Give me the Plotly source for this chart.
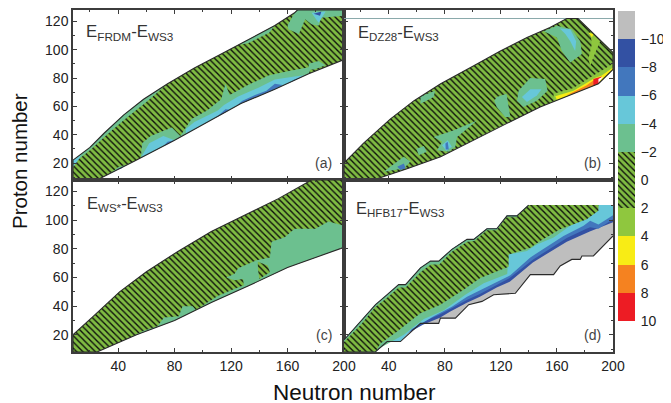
import plotly.graph_objects as go

PAGE_W, PAGE_H = 671, 403
BODY = 8
W, H = PAGE_W - BODY, PAGE_H - BODY
FONT = "Liberation Sans"
GREEN = "#7FBB42"
TEAL = "#6CC08F"
LTBLUE = "#67C7D9"
BLUE = "#4277BD"
DKBLUE = "#3351A3"
GRAY = "#BEBEBE"
LIME = "#8FC73E"
YELLOW = "#F8EC15"
ORANGE = "#F58220"
RED = "#ED1C24"
WHITE = "#FFFFFF"
HATCH = "hatch"

# ---------- panel (a) E_FRDM - E_WS3 : [N, Z] contour outlines ----------
A_BOUND = [[8,8],[8,22],[20,31],[30,41],[44,54],[58,65],[75,76],[94,87],[113,97],[132,107],[151,117],[165,126],[167,128],[200,128],[200,93],[175,83],[151,72],[127,62],[103.5,49],[80,36],[51,21],[25,8]]
A_T_STRIP = [[56,23.6],[57,34],[63,39],[78,45],[84,39],[92,51],[103,57],[113,65],[116,76],[119,68],[132,75],[147,82],[161,85],[177,88],[175,83],[151,72],[127,62],[103.5,49],[80,36]]
A_T_TOP = [[160,117],[165,126],[167,128],[200,128],[200,124],[184,122.6],[182,116.8],[177,118],[172.5,121.5],[168,111],[160.6,114.4]]
A_T_EDGE = [[125,103.3],[132,107],[151,117],[147,112],[132,104.5]]
A_T_BLOB = [[175,90],[182,92],[187,89],[179,86],[175,86]]
A_T_LEFT = [[8,21],[8,22],[20,31],[30,41],[44,54],[58,65],[75,76],[60,63],[46,52],[32,40],[20,29],[10,21]]
A_T_LOW = [[34,12.6],[40,17],[46,19],[51,21],[36,13.5]]
A_L_1 = [[56,23.6],[62,34],[72,39],[80,36]]
A_L_2 = [[88,40.4],[88,44],[94,49],[110.6,57],[115,61],[125,67],[139,73],[151,79],[165,81],[172.5,82],[151,72],[127,62],[103.5,49]]
A_L_TOP = [[177,126],[187,127],[182,119]]
A_L_CORNER = [[8,17],[8,22],[14,26],[11,21]]
A_B_1 = [[72,31.8],[75,35],[80,36]]
A_B_2 = [[109,51.8],[116,58],[119,57.6]]
A_B_3 = [[124,60.5],[128,64],[137,68],[145,71],[151,76],[156.5,75],[151,72],[127,62]]
A_B_4 = [[160,76],[165,79],[172,81.7]]
A_B_5 = [[38,15],[44,17.5],[42,16]]
A_D_TOP = [[178.5,125.4],[184,127],[183,124]]
PANEL_A = [(A_BOUND,HATCH),(A_T_STRIP,TEAL),(A_T_TOP,TEAL),(A_T_EDGE,TEAL),(A_T_BLOB,TEAL),(A_T_LEFT,TEAL),(A_T_LOW,TEAL),
           (A_L_1,LTBLUE),(A_L_2,LTBLUE),(A_L_TOP,LTBLUE),(A_L_CORNER,LTBLUE),
           (A_B_1,BLUE),(A_B_2,BLUE),(A_B_3,BLUE),(A_B_4,BLUE),(A_B_5,BLUE),(A_D_TOP,DKBLUE)]

# ---------- panel (b) E_DZ28 - E_WS3 ----------
B_BOUND = [[8,8],[8,20],[22,34],[41,51],[58,64],[77,76],[100.6,88.7],[119.6,99],[138.6,108.6],[155,115.6],[167,122],[175,122],[200,98],[200,86],[189.6,76],[172,69],[148,59.5],[124,47.8],[100.6,36],[77,24.4],[53,16],[29,8]]
B_RIDGE_Z = 122
B_T_TOP = [[150.5,113],[160,116.8],[170.6,114.4],[176.6,106],[177.8,97],[169.5,91],[163.5,99],[160,108.6]]
B_L_TOP = [[162,115],[169.5,114.4],[173.7,106],[173,99],[169.5,106],[166,111]]
B_T_MID = [[132.6,71],[141,80],[151.6,79.3],[153.3,71],[145.7,64],[136,59.5],[131.5,64]]
B_L_MID = [[135,66.5],[141,72],[149,72],[145.7,67.6],[138.6,63]]
B_T_3 = [[115.3,64],[117,66.5],[124,68.8],[126.7,52.4],[123,52.4],[117,59.5]]
B_T_4 = [[72,38.4],[86,43],[103,50],[88.7,38.4],[87.5,31.4],[82.8,28],[74.4,29],[78,35]]
B_L_4 = [[78,32.6],[82,36],[85,31.4],[81,28.6]]
B_B_4 = [[80.4,33.7],[82,35],[82.8,29.5],[80.6,29.5]]
B_T_5 = [[59.7,30],[65,32],[67,28],[61.4,25.5]]
B_T_6 = [[41,17.4],[50.7,24.4],[55.4,21],[50.7,16.2],[36.4,13.8]]
B_B_6 = [[46,17.4],[50.7,19.7],[52,16.2],[48.3,15]]
B_T_7 = [[62.6,67],[73,71],[72,66.5],[62.6,61.8]]
B_V_RIGHT = [[183.7,113],[190.8,106],[187,97],[183.7,88.7],[182.5,93.4],[184.9,104]]
B_Y_RIGHT = [[182.5,112],[186,111],[185,108.6]]
B_V_LOW = [[157.6,68.8],[171.8,73],[186,81.7],[200,90],[200,86],[189.6,76],[172,69],[157.6,63.4]]
B_Y_LOW = [[158.8,67.2],[171.8,71],[187,80],[192,81.7],[200,87.5],[200,86],[189.6,76],[172,69],[160,64.5]]
B_O_LOW = [[167,67.8],[181,74.7],[188.5,80],[189.6,76],[172,69]]
B_R_LOW = [[186,79.3],[192,81],[189.6,76],[186,74.7]]
B_W_LOW = [[189.6,79.3],[193,81],[189.6,76.5]]
PANEL_B = [(B_BOUND,HATCH),(B_T_TOP,TEAL),(B_L_TOP,LTBLUE),(B_T_MID,TEAL),(B_L_MID,LTBLUE),(B_T_3,TEAL),(B_T_4,TEAL),(B_L_4,LTBLUE),(B_B_4,BLUE),
           (B_T_5,TEAL),(B_T_6,TEAL),(B_B_6,BLUE),(B_T_7,TEAL),(B_V_RIGHT,LIME),(B_Y_RIGHT,YELLOW),
           (B_V_LOW,LIME),(B_Y_LOW,YELLOW),(B_O_LOW,ORANGE),(B_R_LOW,RED),(B_W_LOW,WHITE)]

# ---------- panel (c) E_WS* - E_WS3 ----------
C_BOUND = [[8,8],[8,20],[22.5,33],[41,50],[60,64],[82,78],[106,92],[130,103.5],[153.5,115],[177,128],[200,128],[200,81],[160,67],[132,54],[106,42.6],[80,30],[53,20],[25,8]]
C_T_MAIN = [[46,17],[58,22.8],[67.8,26],[72.5,32],[83,33],[85.6,40],[92.8,40],[95,37.3],[103.5,42.7],[110.6,47],[120,51],[129,54.5],[128.5,59],[122.5,58],[116.6,60],[122.5,62.6],[125,66.5],[138,72],[147.5,74],[148.7,85],[158,88],[165,94],[179.7,94],[189,99],[200,96],[200,81],[160,67],[132,54],[106,42.6],[80,30],[53,20]]
C_H_ISLE = [[139,71],[146,68.4],[147.5,63.7],[140,59],[139,66]]
PANEL_C = [(C_BOUND,HATCH),(C_T_MAIN,TEAL),(C_H_ISLE,HATCH)]

# ---------- panel (d) E_HFB17 - E_WS3 ----------
D_UPPER = [[8,16.4],[19.8,29.3],[30.5,41],[38.8,48],[47,55],[51.9,55],[62.6,66.7],[69.7,71.4],[75.6,71.4],[85,79.6],[95.8,86.6],[100.6,86.6],[110,94],[117,94],[124.3,103],[131.4,103],[139.8,110.5],[200,110.5]]
D_LOWER = [[200,89],[186,75],[177.8,75],[176.6,72.6],[170.6,72.6],[162.3,68],[157.6,62],[141,62],[130.3,49],[114.8,48],[106.5,43.3],[97,41],[87.5,31.6],[76.8,31.6],[75.6,28],[62.6,28],[48.3,15.3],[38.8,15.3],[30.5,8.2],[8,8]]
D_FOOT_LONG = [[48.3,15.3],[38.8,15.3],[30.5,8.2],[8,8]]
D_FOOT_SHORT = [[30.5,8.2],[8,8]]
D_EDGE_GRAY = [[48.3,15.3],[51.5,20],[64.3,27],[76.4,31.9],[83.6,36],[95.7,42.4],[105,46.6],[117,53],[126.3,57],[142.8,70.5],[167,85],[183.4,92],[200,98.5]]
D_EDGE_DK = [[48.3,15.3],[50,21.5],[64,29],[76,34],[84,38],[96,44.5],[105,48.5],[117,55],[126,59.5],[143,72.5],[167,87.5],[181,94],[183.7,95],[189.6,94],[200,100.6]]
D_EDGE_BL = [[48.3,15.3],[56.6,24],[72,33],[85,39.5],[95.8,46.5],[112.4,54.5],[126.7,61.5],[141,74],[150.4,80],[164.7,89],[179,96],[183.7,99.5],[189.6,97],[200,103.4]]
D_EDGE_LB = [[35.2,11.7],[50.7,20],[59,26.5],[65,31],[79,37],[94.6,48],[107.7,56],[120,60.5],[124.5,62.5],[125.5,76],[138.6,78.4],[145.7,83],[157.6,87.8],[169.5,96],[182.5,101.8],[189.6,108.8],[189.6,110.5]]
D_EDGE_TL = [[34,14],[46,22.3],[56.6,30.5],[62.6,35],[76.8,41],[93.4,51.5],[105.3,59.7],[117,64.4],[125.5,67.4],[125.5,76],[141,80.7],[148,85.4],[162.3,93.6],[181.3,100.6],[189.6,106.5],[189.6,110.5]]
D_HATCH_TOP = [[8,15],[20,27],[30,39],[39,46],[47,53],[52,53],[63,64],[70,69],[76,69],[85,78],[96,85],[101,85.5],[110,93],[117,93],[124,102],[131,102],[140,110.5],[189.6,110.5]]

# ---------- colour key ----------
CB_LOW = [-12,-10,-8,-6,-4,-2,2,4,6,8]
CB_HIGH = [-10,-8,-6,-4,-2,2,4,6,8,10]
CB_COL = [GRAY,DKBLUE,BLUE,LTBLUE,TEAL,HATCH,LIME,YELLOW,ORANGE,RED]
CB_TICKS = [-10,-8,-6,-4,-2,0,2,4,6,8,10]
X_TICKS = [40,80,120,160,200]
Y_TICKS = [20,40,60,80,100,120]

PAT = dict(shape="\\", size=4.4, solidity=0.3, fgcolor="#0a0a0a", bgcolor=GREEN, fillmode="replace")

fig = go.Figure()

def poly(points, colour, ax):
    xa, ya = ax
    kw = dict(x=[p[0] for p in points], y=[p[1] for p in points], mode="lines", fill="toself",
              line=dict(width=0), xaxis=xa, yaxis=ya, hoverinfo="skip", showlegend=False)
    if colour == HATCH:
        kw["fillcolor"] = GREEN
        kw["fillpattern"] = PAT
    else:
        kw["fillcolor"] = colour
    fig.add_trace(go.Scatter(**kw))

def outline(points, ax, closed=True):
    xa, ya = ax
    pts = points + points[:1] if closed else points
    fig.add_trace(go.Scatter(x=[p[0] for p in pts], y=[p[1] for p in pts], mode="lines",
                             line=dict(color="#2a2a2a", width=1.1), xaxis=xa, yaxis=ya,
                             hoverinfo="skip", showlegend=False))

AX_A, AX_B, AX_C, AX_D = ("x","y"), ("x2","y2"), ("x3","y3"), ("x4","y4")

for pts, col in PANEL_A:
    poly(pts, col, AX_A)
outline(A_BOUND, AX_A)

for pts, col in PANEL_B:
    poly(pts, col, AX_B)
fig.add_trace(go.Scatter(x=[8,200], y=[B_RIDGE_Z,B_RIDGE_Z], mode="lines", line=dict(color="#8aa9ab", width=1),
                         xaxis="x2", yaxis="y2", hoverinfo="skip", showlegend=False))
outline(B_BOUND, AX_B)

for pts, col in PANEL_C:
    poly(pts, col, AX_C)
outline(C_BOUND, AX_C)

poly(D_UPPER + D_LOWER, GRAY, AX_D)
top_rev = D_UPPER[::-1]
poly(D_EDGE_GRAY + top_rev + D_FOOT_LONG[::-1], DKBLUE, AX_D)
poly(D_EDGE_DK + top_rev + D_FOOT_LONG[::-1], BLUE, AX_D)
poly(D_EDGE_BL + top_rev + D_FOOT_LONG[::-1], LTBLUE, AX_D)
poly(D_EDGE_LB + top_rev + D_FOOT_SHORT[::-1], TEAL, AX_D)
poly(D_EDGE_TL + D_HATCH_TOP[::-1] + D_FOOT_SHORT[::-1], HATCH, AX_D)
outline(D_UPPER[:-1], AX_D, closed=False)
outline(D_LOWER, AX_D, closed=False)

for lo, hi, col in zip(CB_LOW, CB_HIGH, CB_COL):
    if col == HATCH:
        marker = dict(color=GREEN, pattern=PAT, line=dict(width=0))
    else:
        marker = dict(color=col, line=dict(width=0))
    fig.add_trace(go.Bar(x=[0], y=[hi-lo], base=[lo], width=1, marker=marker, xaxis="x5", yaxis="y5",
                         hoverinfo="skip", showlegend=False))

def px_x(a, b):
    return [(a-BODY)/W, (b-BODY)/W]
def px_y(top, bottom):
    return [1-(bottom-BODY)/H, 1-(top-BODY)/H]

LINE = "#3c3c3c"
def xa(dom, anchor, labels):
    return dict(domain=dom, anchor=anchor, range=[8,200], tickvals=X_TICKS, showticklabels=labels,
                ticks="inside", ticklen=4, tickwidth=1, tickcolor=LINE, showline=True, linecolor=LINE, linewidth=1.5,
                mirror="ticks", showgrid=False, zeroline=False,
                minor=dict(dtick=20, tick0=0, ticks="inside", ticklen=2, tickwidth=1, tickcolor=LINE, showgrid=False),
                tickfont=dict(family=FONT, size=14, color="#222"))
def ya(dom, anchor, labels):
    return dict(domain=dom, anchor=anchor, range=[8,128], tickvals=Y_TICKS, showticklabels=labels,
                ticks="inside", ticklen=4, tickwidth=1, tickcolor=LINE, showline=True, linecolor=LINE, linewidth=1.5,
                mirror="ticks", showgrid=False, zeroline=False,
                minor=dict(dtick=10, tick0=0, ticks="inside", ticklen=2, tickwidth=1, tickcolor=LINE, showgrid=False),
                tickfont=dict(family=FONT, size=14, color="#222"))

L, R = px_x(73, 344), px_x(344, 613)
T, B = px_y(10, 180), px_y(180, 352)

def title(ref, sub1, sub2, n, z, size):
    return dict(xref=f"x{ref}", yref=f"y{ref}", x=n, y=z, xanchor="left", yanchor="middle", showarrow=False,
                text=f"E<sub>{sub1}</sub>-E<sub>{sub2}</sub>", font=dict(family=FONT, size=size, color="#333"))
def tag(ref, text, z):
    return dict(xref=f"x{ref}", yref=f"y{ref}", x=193, y=z, xanchor="right", yanchor="middle", showarrow=False,
                text=text, font=dict(family=FONT, size=14, color="#444"))

fig.update_layout(
    width=W, height=H, autosize=False, margin=dict(l=0, r=0, t=0, b=0, pad=0, autoexpand=False), paper_bgcolor="white", plot_bgcolor="white",
    barmode="overlay", bargap=0,
    xaxis=xa(L, "y", False), yaxis=ya(T, "x", True),
    xaxis2=xa(R, "y2", False), yaxis2=ya(T, "x2", False),
    xaxis3=xa(L, "y3", True), yaxis3=ya(B, "x3", True),
    xaxis4=xa(R, "y4", True), yaxis4=ya(B, "x4", False),
    xaxis5=dict(domain=px_x(618,635), anchor="y5", range=[-0.5,0.5], visible=False),
    yaxis5=dict(domain=px_y(11,321), anchor="x5", range=[10,-12], side="right", tickvals=CB_TICKS,
                showline=False, ticks="outside", ticklen=2, tickcolor="rgba(0,0,0,0)", showgrid=False, zeroline=False,
                tickfont=dict(family=FONT, size=14, color="#222")),
    annotations=[
        title("", "FRDM", "WS3", 15.5, 112, 16.8),
        title("2", "DZ28", "WS3", 16.5, 112, 16.5),
        title("3", "WS*", "WS3", 16.5, 111, 16.5),
        title("4", "HFB17", "WS3", 15, 107.5, 16.5),
        tag("", "(a)", 20), tag("2", "(b)", 20), tag("3", "(c)", 20), tag("4", "(d)", 20),
        dict(xref="paper", yref="paper", x=(354-BODY)/W, y=1-(392-BODY)/H, xanchor="center", yanchor="middle", text="Neutron number", showarrow=False,
             font=dict(family=FONT, size=22.5, color="#111")),
        dict(xref="paper", yref="paper", x=(19-BODY)/W, y=1-(161-BODY)/H, xanchor="center", yanchor="middle", text="Proton number", showarrow=False, textangle=-90,
             font=dict(family=FONT, size=20.5, color="#111")),
    ],
)

fig.write_html("out.html")
